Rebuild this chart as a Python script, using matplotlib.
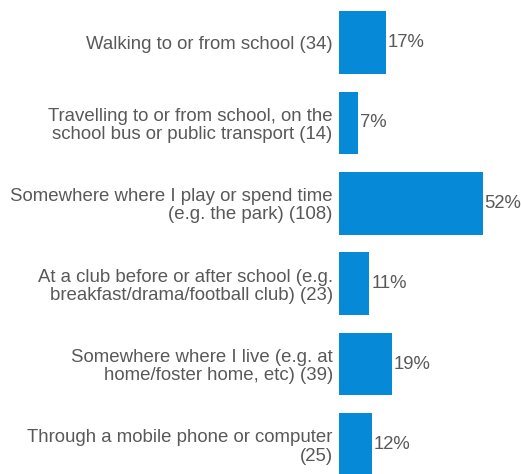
import matplotlib
matplotlib.use("Agg")
import matplotlib.pyplot as plt

labels = [
    "Walking to or from school (34)",
    "Travelling to or from school, on the\nschool bus or public transport (14)",
    "Somewhere where I play or spend time\n(e.g. the park) (108)",
    "At a club before or after school (e.g.\nbreakfast/drama/football club) (23)",
    "Somewhere where I live (e.g. at\nhome/foster home, etc) (39)",
    "Through a mobile phone or computer\n(25)",
]
values = [17, 7, 52, 11, 19, 12]

bar_color = "#0689D6"
text_color = "#595959"

plt.rcParams["font.family"] = ["Liberation Sans", "DejaVu Sans"]

W, H = 521, 474
fig = plt.figure(figsize=(W / 100, H / 100), dpi=100)
# axes start where the bars start; labels hang off to the left
ax = fig.add_axes([339 / W, 0, (W - 339) / W, 1])

pos = list(range(len(values)))
ax.barh(pos, values, height=0.78, color=bar_color)
ax.set_xlim(0, (W - 339) / 2.77)
ax.set_ylim(5.367, -0.529)

for p, v in zip(pos, values):
    ax.text(v + 0.6, p, f"{v}%", va="center", ha="left",
            fontsize=13.3, color=text_color)

ax.set_yticks(pos)
ax.set_yticklabels(labels, fontsize=13.4, color=text_color, linespacing=1.08)
ax.tick_params(axis="y", length=0, pad=4.5)
ax.set_xticks([])
for s in ax.spines.values():
    s.set_visible(False)

fig.savefig("out.png", dpi=100)
